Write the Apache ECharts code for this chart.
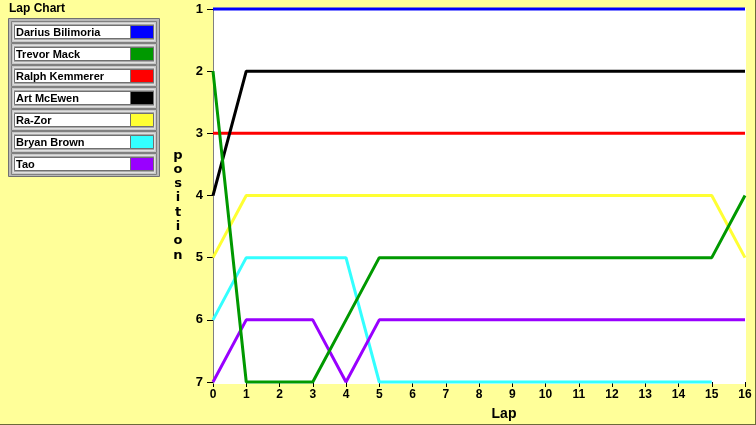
<!DOCTYPE html>
<html><head><meta charset="utf-8">
<script src="https://cdn.jsdelivr.net/npm/echarts@6/dist/echarts.min.js"></script>
<style>html,body{margin:0;padding:0;background:#ffff99;}#c{width:756px;height:425px;}</style>
</head><body><div id="c"></div>
<script>
const laps = [0,1,2,3,4,5,6,7,8,9,10,11,12,13,14,15,16];
const names = ['Darius Bilimoria','Trevor Mack','Ralph Kemmerer','Art McEwen','Ra-Zor','Bryan Brown','Tao'];
const colors = ['#0000ff','#009900','#ff0000','#000000','#ffff33','#33ffff','#9900ff'];
const darius = [1,1,1,1,1,1,1,1,1,1,1,1,1,1,1,1,1];
const trevor = [2,7,7,7,6,5,5,5,5,5,5,5,5,5,5,5,4];
const ralph  = [3,3,3,3,3,3,3,3,3,3,3,3,3,3,3,3,3];
const art    = [4,2,2,2,2,2,2,2,2,2,2,2,2,2,2,2,2];
const razor  = [5,4,4,4,4,4,4,4,4,4,4,4,4,4,4,4,5];
const bryan  = [6,5,5,5,5,7,7,7,7,7,7,7,7,7,7,7];
const tao    = [7,6,6,6,7,6,6,6,6,6,6,6,6,6,6,6,6];
const yTicks = [1,2,3,4,5,6,7];
const values = [darius,trevor,ralph,art,razor,bryan,tao];
const zOrder = [2,9,2,2,2,3,4];

const chart = echarts.init(document.getElementById('c'));
const series = values.map((v,i)=>({
  name:names[i], type:'line', showSymbol:false, symbol:'none', clip:false,
  z:zOrder[i], animation:false,
  lineStyle:{color:colors[i], width:3},
  data:v.map((p,j)=>[laps[j],p])
}));

const graphic = [
  {type:'rect', z:-1, shape:{x:213,y:8,width:533,height:376}, style:{fill:'#ffffff'}},
  {type:'line', z:1, shape:{x1:213.5,y1:8,x2:213.5,y2:384}, style:{stroke:'#808080',lineWidth:1}},
  {type:'line', z:1, shape:{x1:0,y1:424.5,x2:756,y2:424.5}, style:{stroke:'#6b6b3a',lineWidth:1}},
  {type:'line', z:1, shape:{x1:755.5,y1:0,x2:755.5,y2:425}, style:{stroke:'#6b6b3a',lineWidth:1}},
  {type:'text', left:9, top:3, style:{text:'Lap Chart', font:'bold 12px "Liberation Sans"', fill:'#000'}},
  {type:'text', x:178, y:148, style:{text:'position'.split('').join('\n'), font:'bold 13px "DejaVu Sans"', lineHeight:14.3, fill:'#000', align:'center', verticalAlign:'top'}},
  {type:'text', x:504, y:414, style:{text:'Lap', font:'bold 14px "Liberation Sans"', fill:'#000', align:'center', verticalAlign:'middle'}},
  {type:'rect', shape:{x:8.5,y:18.5,width:151,height:158}, style:{fill:'#b8b8b8', stroke:'#707070', lineWidth:1}}
];
names.forEach((n,i)=>{
  const y0 = 21 + 22*i;
  graphic.push({type:'rect', shape:{x:11.5,y:y0+0.5,width:145,height:21}, style:{fill:'#c8c8c8', stroke:'#808080', lineWidth:1}});
  graphic.push({type:'rect', shape:{x:13.5,y:y0+2.5,width:141,height:17}, style:{fill:'#a8a8a8', stroke:'#e0e0e0', lineWidth:1}});
  graphic.push({type:'rect', shape:{x:14.5,y:y0+4.5,width:116,height:13}, style:{fill:'#ffffff', stroke:'#707070', lineWidth:1}});
  graphic.push({type:'rect', shape:{x:130.5,y:y0+4.5,width:23,height:13}, style:{fill:colors[i], stroke:'#707070', lineWidth:1}});
  graphic.push({type:'text', x:16, y:y0+11.5, style:{text:n, font:'bold 11px "Liberation Sans"', fill:'#000', verticalAlign:'middle'}});
});

chart.setOption({
  animation:false,
  backgroundColor:'#ffff99',
  grid:{left:213, top:9, width:532, height:373, containLabel:false},
  xAxis:{type:'value', min:0, max:16, interval:1,
    axisLine:{show:false}, splitLine:{show:false},
    axisTick:{show:true, length:5, lineStyle:{color:'#000'}},
    axisLabel:{margin:7, color:'#000', fontWeight:'bold', fontSize:12, fontFamily:'Liberation Sans',
      formatter:v=>String(laps[v])}},
  yAxis:{type:'value', inverse:true, min:1, max:7, interval:1,
    axisLine:{show:false}, splitLine:{show:false},
    axisTick:{show:true, length:6, lineStyle:{color:'#000'}},
    axisLabel:{margin:10, color:'#000', fontWeight:'bold', fontSize:13, fontFamily:'Liberation Sans',
      formatter:v=>String(yTicks[v-1])}},
  graphic:graphic,
  series:series
});
</script></body></html>
